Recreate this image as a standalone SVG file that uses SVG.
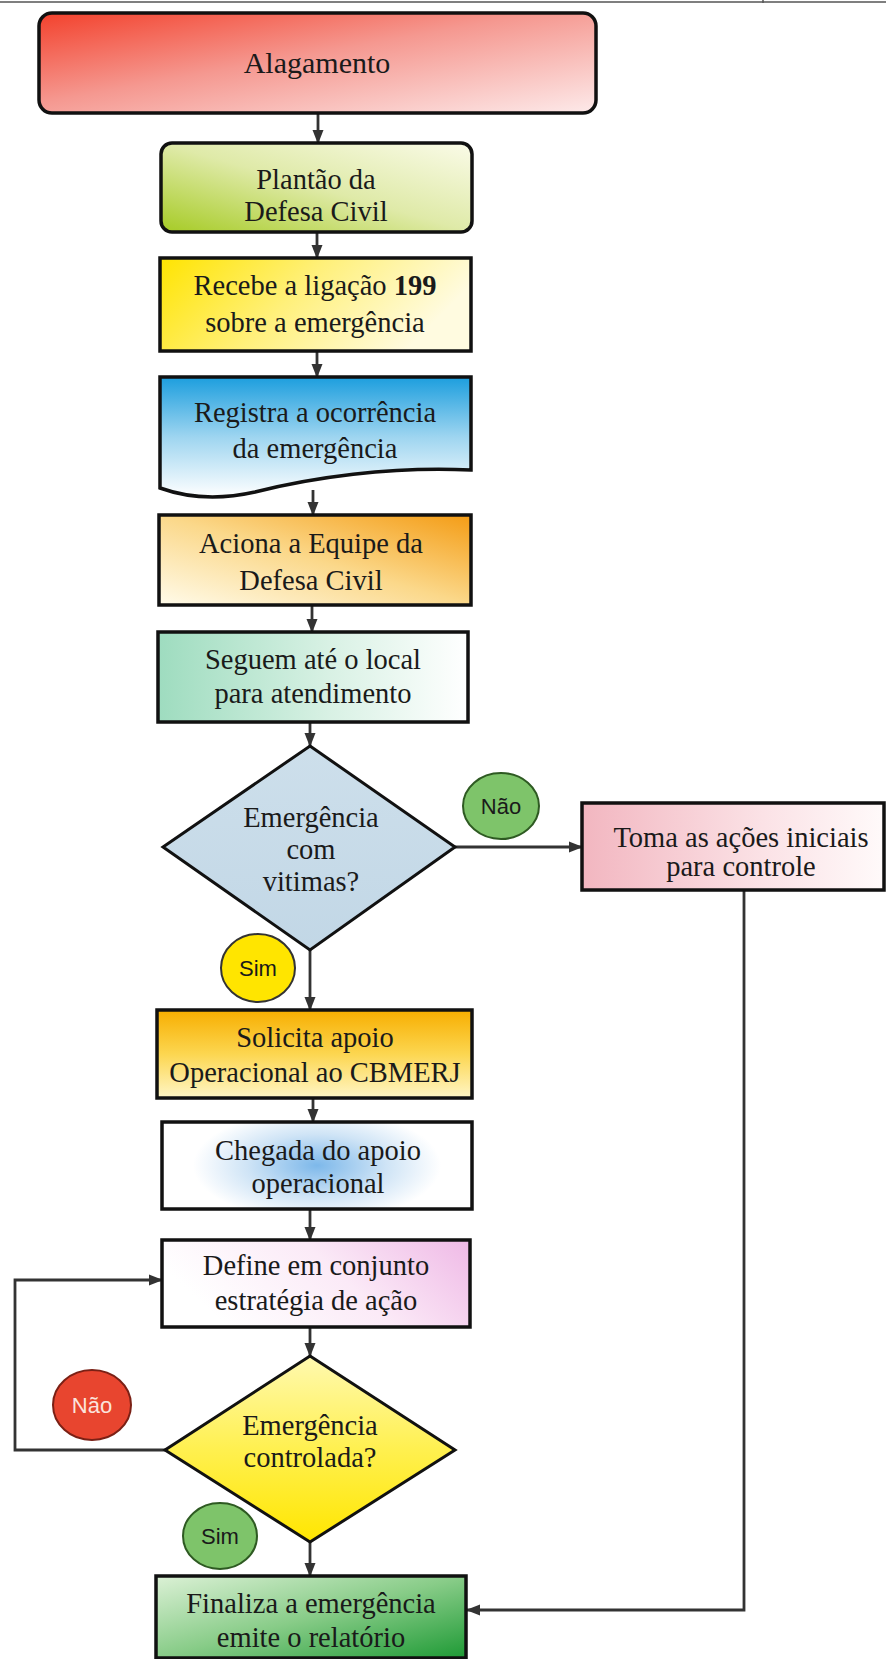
<svg xmlns="http://www.w3.org/2000/svg" width="886" height="1659" viewBox="0 0 886 1659">
<style>
.box{stroke:#111;stroke-width:3.5}
.dia{stroke:#111;stroke-width:3}
.t{font-family:"Liberation Serif","Times New Roman",serif;font-size:28.5px;fill:#1a1a1a;text-anchor:middle}
.c{font-family:"Liberation Sans",Arial,sans-serif;font-size:22px;fill:#1a1a1a;text-anchor:middle}
.lbl{stroke-width:2}
.con{fill:none;stroke:#333;stroke-width:2.8}
</style>
<defs>
<marker id="ah" markerUnits="userSpaceOnUse" markerWidth="14" markerHeight="14" viewBox="0 0 14 14" refX="13" refY="7" orient="auto">
<path d="M0,1.5 L14,7 L0,12.5 Z" fill="#333"/>
</marker>
<linearGradient id="gAlag" x1="0" y1="0" x2="1" y2="1">
<stop offset="0" stop-color="#f3412c"/><stop offset="0.45" stop-color="#f59890"/><stop offset="1" stop-color="#fdeaea"/>
</linearGradient>
<linearGradient id="gPlant" x1="0" y1="1" x2="1" y2="0">
<stop offset="0" stop-color="#a6cb25"/><stop offset="0.5" stop-color="#dfeaa8"/><stop offset="1" stop-color="#fafbe8"/>
</linearGradient>
<linearGradient id="gRec" x1="0" y1="0" x2="1" y2="0.3">
<stop offset="0" stop-color="#ffe400"/><stop offset="0.5" stop-color="#fff07a"/><stop offset="1" stop-color="#fffbe0"/>
</linearGradient>
<linearGradient id="gReg" x1="0" y1="0" x2="0" y2="1">
<stop offset="0" stop-color="#1c9ede"/><stop offset="0.5" stop-color="#9ed5f0"/><stop offset="1" stop-color="#ffffff"/>
</linearGradient>
<linearGradient id="gAci" x1="1" y1="0" x2="0" y2="1">
<stop offset="0" stop-color="#f49c15"/><stop offset="0.5" stop-color="#fbd88a"/><stop offset="1" stop-color="#fffbea"/>
</linearGradient>
<linearGradient id="gSeg" x1="0" y1="0" x2="1" y2="0">
<stop offset="0" stop-color="#9edcbf"/><stop offset="0.55" stop-color="#d8f1e4"/><stop offset="1" stop-color="#ffffff"/>
</linearGradient>
<linearGradient id="gDia1" x1="0" y1="0" x2="0" y2="1">
<stop offset="0" stop-color="#cddfeb"/><stop offset="1" stop-color="#c2d7e6"/>
</linearGradient>
<linearGradient id="gToma" x1="0" y1="0" x2="1" y2="0">
<stop offset="0" stop-color="#f2b6c0"/><stop offset="0.6" stop-color="#fbe2e6"/><stop offset="1" stop-color="#fffafa"/>
</linearGradient>
<linearGradient id="gSol" x1="0" y1="0" x2="0" y2="1">
<stop offset="0" stop-color="#f7ae00"/><stop offset="0.5" stop-color="#fcd650"/><stop offset="1" stop-color="#fff6c6"/>
</linearGradient>
<radialGradient id="gCheg" cx="0.5" cy="0.5" r="0.5" fx="0.5" fy="0.5" gradientTransform="translate(0.5,0.5) scale(1,1.6) translate(-0.5,-0.5)">
<stop offset="0" stop-color="#7db8ea"/><stop offset="0.45" stop-color="#cfe4f6"/><stop offset="0.8" stop-color="#ffffff"/>
</radialGradient>
<linearGradient id="gDef" x1="0" y1="0.3" x2="1" y2="0">
<stop offset="0" stop-color="#ffffff"/><stop offset="0.5" stop-color="#fbeaf7"/><stop offset="1" stop-color="#efb9e6"/>
</linearGradient>
<linearGradient id="gDia2" x1="0" y1="0" x2="0" y2="1">
<stop offset="0" stop-color="#fff9b0"/><stop offset="0.5" stop-color="#fff050"/><stop offset="1" stop-color="#ffe600"/>
</linearGradient>
<linearGradient id="gFin" x1="0" y1="0" x2="1" y2="1">
<stop offset="0" stop-color="#dcf1d6"/><stop offset="0.5" stop-color="#88cc88"/><stop offset="1" stop-color="#1e9a35"/>
</linearGradient>
</defs>
<rect width="886" height="1659" fill="#ffffff"/>
<g id="topline">
<line x1="0" y1="2" x2="886" y2="2" stroke="#555" stroke-width="1.5"/>
<line x1="763" y1="0" x2="763" y2="3" stroke="#555" stroke-width="1.5"/>
</g>
<g id="connectors">
<line class="con" x1="318" y1="113" x2="318" y2="143" marker-end="url(#ah)"/>
<line class="con" x1="317" y1="232" x2="317" y2="258" marker-end="url(#ah)"/>
<line class="con" x1="317" y1="351" x2="317" y2="377" marker-end="url(#ah)"/>
<line class="con" x1="313" y1="490" x2="313" y2="515" marker-end="url(#ah)"/>
<line class="con" x1="312" y1="605" x2="312" y2="632" marker-end="url(#ah)"/>
<line class="con" x1="310" y1="722" x2="310" y2="746" marker-end="url(#ah)"/>
<line class="con" x1="455" y1="847" x2="582" y2="847" marker-end="url(#ah)"/>
<line class="con" x1="310" y1="950" x2="310" y2="1010" marker-end="url(#ah)"/>
<line class="con" x1="313" y1="1098" x2="313" y2="1122" marker-end="url(#ah)"/>
<line class="con" x1="310" y1="1209" x2="310" y2="1240" marker-end="url(#ah)"/>
<line class="con" x1="310" y1="1327" x2="310" y2="1356" marker-end="url(#ah)"/>
<polyline class="con" points="165,1450 15,1450 15,1280 162,1280" marker-end="url(#ah)"/>
<line class="con" x1="310" y1="1542" x2="310" y2="1576" marker-end="url(#ah)"/>
<polyline class="con" points="744,890 744,1610 467,1610" marker-end="url(#ah)"/>
</g>
<g id="alagamento">
<rect class="box" x="39" y="13" width="557" height="100" rx="13" fill="url(#gAlag)"/>
<text class="t" x="317" y="73" style="font-size:30px">Alagamento</text>
</g>
<g id="plantao">
<rect class="box" x="161" y="143" width="311" height="89" rx="11" fill="url(#gPlant)"/>
<text class="t" x="316" y="189">Plantão da</text>
<text class="t" x="316" y="221">Defesa Civil</text>
</g>
<g id="recebe">
<rect class="box" x="160" y="258" width="311" height="93" fill="url(#gRec)"/>
<text class="t" x="315" y="295">Recebe a ligação <tspan font-weight="bold">199</tspan></text>
<text class="t" x="315" y="332">sobre a emergência</text>
</g>
<g id="registra">
<path class="box" d="M160,377 H471 V470 C390,466 310,478 255,492 C215,501 185,497 160,488 Z" fill="url(#gReg)"/>
<text class="t" x="315" y="422">Registra a ocorrência</text>
<text class="t" x="315" y="458">da emergência</text>
</g>
<g id="aciona">
<rect class="box" x="159" y="515" width="312" height="90" fill="url(#gAci)"/>
<text class="t" x="311" y="553">Aciona a Equipe da</text>
<text class="t" x="311" y="590">Defesa Civil</text>
</g>
<g id="seguem">
<rect class="box" x="158" y="632" width="310" height="90" fill="url(#gSeg)"/>
<text class="t" x="313" y="669">Seguem até o local</text>
<text class="t" x="313" y="703">para atendimento</text>
</g>
<g id="decisao1">
<polygon class="dia" points="310,746 455,847 310,950 163,847" fill="url(#gDia1)"/>
<text class="t" x="311" y="827">Emergência</text>
<text class="t" x="311" y="859">com</text>
<text class="t" x="311" y="891">vitimas?</text>
</g>
<g id="nao1">
<ellipse class="lbl" cx="501" cy="806" rx="38" ry="33" fill="#7ec46a" stroke="#2e5a22"/>
<text class="c" x="501" y="814">Não</text>
</g>
<g id="toma">
<rect class="box" x="582" y="803" width="302" height="87" fill="url(#gToma)"/>
<text class="t" x="741" y="847">Toma as ações iniciais</text>
<text class="t" x="741" y="876">para controle</text>
</g>
<g id="sim1">
<ellipse class="lbl" cx="258" cy="968" rx="37" ry="34" fill="#ffe500" stroke="#333"/>
<text class="c" x="258" y="976">Sim</text>
</g>
<g id="solicita">
<rect class="box" x="157" y="1010" width="315" height="88" fill="url(#gSol)"/>
<text class="t" x="315" y="1047">Solicita apoio</text>
<text class="t" x="315" y="1082">Operacional ao CBMERJ</text>
</g>
<g id="chegada">
<rect class="box" x="162" y="1122" width="310" height="87" fill="url(#gCheg)"/>
<text class="t" x="318" y="1160">Chegada do apoio</text>
<text class="t" x="318" y="1193">operacional</text>
</g>
<g id="define">
<rect class="box" x="162" y="1240" width="308" height="87" fill="url(#gDef)"/>
<text class="t" x="316" y="1275">Define em conjunto</text>
<text class="t" x="316" y="1310">estratégia de ação</text>
</g>
<g id="nao2">
<ellipse class="lbl" cx="92" cy="1405" rx="39" ry="35" fill="#e8452f" stroke="#7a2015"/>
<text class="c" x="92" y="1413" style="fill:#fbe3dc">Não</text>
</g>
<g id="decisao2">
<polygon class="dia" points="310,1356 455,1450 310,1542 165,1450" fill="url(#gDia2)"/>
<text class="t" x="310" y="1435">Emergência</text>
<text class="t" x="310" y="1467">controlada?</text>
</g>
<g id="sim2">
<ellipse class="lbl" cx="220" cy="1536" rx="37" ry="33" fill="#7ec46a" stroke="#2e5a22"/>
<text class="c" x="220" y="1544">Sim</text>
</g>
<g id="finaliza">
<rect class="box" x="156" y="1576" width="310" height="82" fill="url(#gFin)"/>
<text class="t" x="311" y="1613">Finaliza a emergência</text>
<text class="t" x="311" y="1647">emite o relatório</text>
</g>
</svg>
